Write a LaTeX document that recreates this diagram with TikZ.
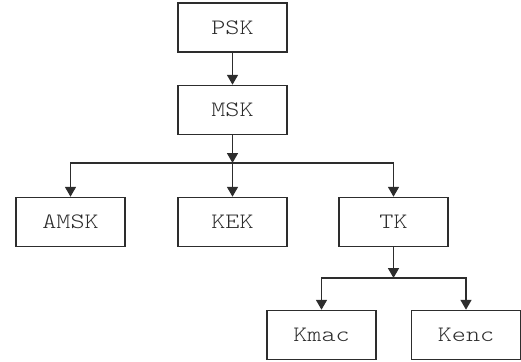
\documentclass[tikz,border=0pt]{standalone}
\usepackage{fontspec}
\newfontfamily\keyfont[FakeStretch=1.22]{lmmonolt10-regular.otf}
\usetikzlibrary{arrows.meta,positioning}
\definecolor{ink}{RGB}{45,45,45}
\tikzset{
  every picture/.style={color=ink, line width=1.5pt},
  key/.style={draw=ink, fill=white, minimum width=109pt, minimum height=49pt, inner sep=0pt, font=\fontsize{22}{26}\selectfont\keyfont, text=ink},
  flow/.style={-{Triangle[length=10pt,width=11pt]}, line width=1.7pt},
}

\begin{document}
\begin{tikzpicture}[x=1pt,y=-1pt]
  \useasboundingbox (0,0) rectangle (521,361);
  \node[key] (psk) at (232.5,27.5) {PSK};
  \node[key, below=32pt of psk] (msk) {MSK};
  \node[key] (amsk) at (70.5,222) {AMSK};
  \node[key] (kek) at (232.5,222) {KEK};
  \node[key] (tk) at (393.5,222) {TK};
  \node[key] (kmac) at (321.5,335) {Kmac};
  \node[key] (kenc) at (466,335) {Kenc};
  \coordinate (split) at (232.5,163);
  \coordinate (tksplit) at (393.5,278);
  \draw[flow] (psk) -- (msk);
  \draw[flow] (msk) -- (split);
  \foreach \n in {amsk,kek,tk} { \draw[flow] (split) -| (\n); }
  \draw[flow] (tk) -- (tksplit);
  \foreach \n in {kmac,kenc} { \draw[flow] (tksplit) -| (\n); }
\end{tikzpicture}
\end{document}
